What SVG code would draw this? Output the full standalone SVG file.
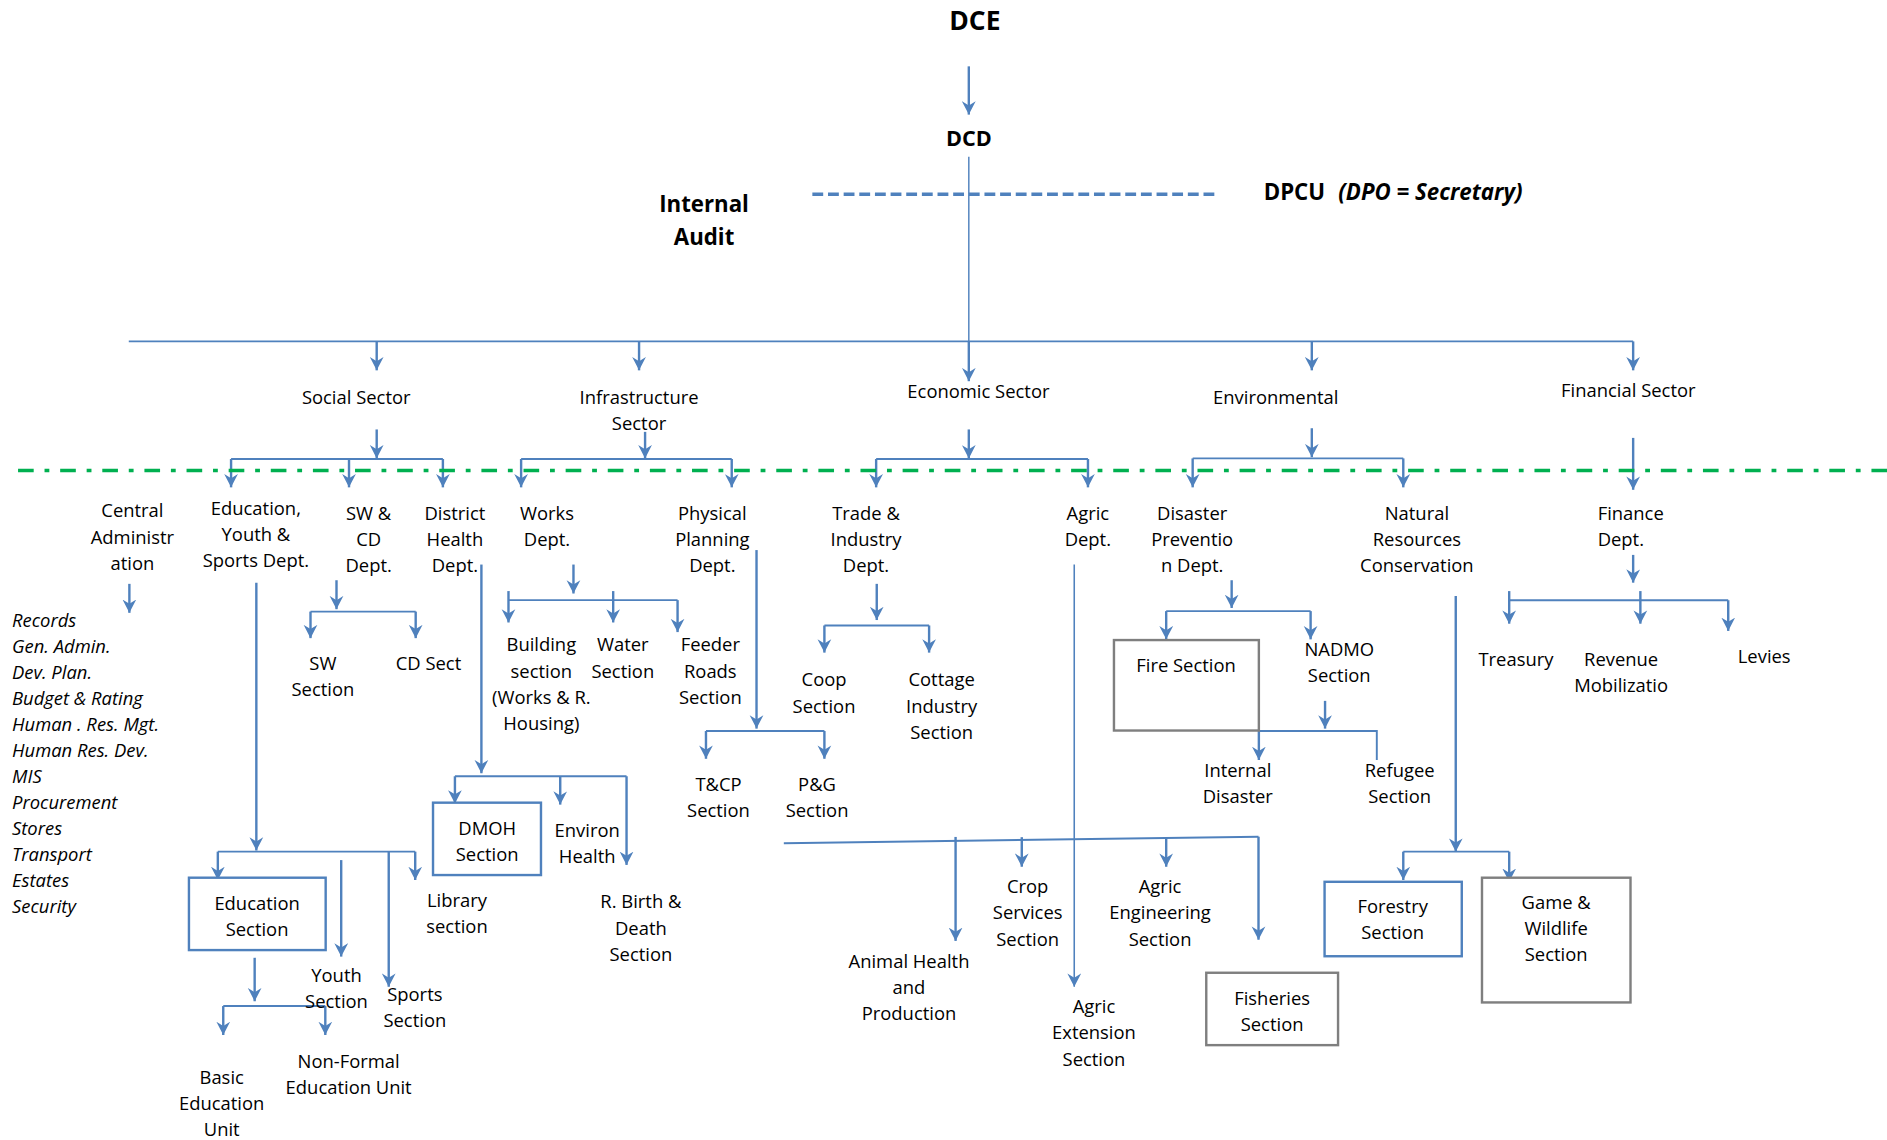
<svg xmlns="http://www.w3.org/2000/svg" width="1887" height="1140" viewBox="0 0 1887 1140">
<style>
.t{font-family:"Open Sans","Liberation Sans",sans-serif;font-size:15.3px;fill:#000;text-anchor:middle}
.ts{font-family:"Open Sans","Liberation Sans",sans-serif;font-size:15.3px;fill:#000;text-anchor:start}
.it{font-family:"Open Sans","Liberation Sans",sans-serif;font-size:15.3px;font-style:italic;fill:#000}
.b{font-family:"Open Sans","Liberation Sans",sans-serif;font-weight:bold;fill:#000;text-anchor:middle}
.bs{font-family:"Open Sans","Liberation Sans",sans-serif;font-weight:bold;fill:#000;text-anchor:start}
.a{stroke:#4F81BD;stroke-width:2;fill:none;marker-end:url(#ah)}
.at{stroke:#4F81BD;stroke-width:1.3;fill:none;marker-end:url(#ah)}
.l{stroke:#4F81BD;stroke-width:1.6;fill:none}
.lt{stroke:#4F81BD;stroke-width:1.2;fill:none}
.bb{fill:#fff;stroke:#4F81BD;stroke-width:2}
.gb{fill:#fff;stroke:#7F7F7F;stroke-width:2}
</style>
<defs>
<marker id="ah" markerUnits="userSpaceOnUse" markerWidth="12" markerHeight="12" refX="11" refY="6" orient="auto" viewBox="0 0 12 12">
<path d="M0,0.3 L11,6 L0,11.7 L3.5,6 z" fill="#4F81BD"/>
</marker>
</defs>
<rect width="1887" height="1140" fill="#fff"/>
<g transform="scale(1.2035 1.2063)">
<g id="connectors">
<path class="a" d="M805,55 V95"/>
<path class="lt" d="M805,130 V283"/>
<path d="M675,161 H1013" stroke="#4F81BD" stroke-width="3" stroke-dasharray="9 4" fill="none"/>
<path class="l" d="M107,283 H1357"/>
<path class="a" d="M313,283 V307"/>
<path class="a" d="M531,283 V307"/>
<path class="a" d="M805,283 V316"/>
<path class="a" d="M1090,283 V307"/>
<path class="a" d="M1357,283 V307"/>
<path class="a" d="M313,356 V380"/>
<path class="l" d="M192,380.5 H368"/>
<path class="a" d="M192,380.5 V404"/>
<path class="a" d="M290,380.5 V404"/>
<path class="a" d="M368,380.5 V404"/>
<path class="a" d="M536,358 V380"/>
<path class="l" d="M433,380.5 H608"/>
<path class="a" d="M433,380.5 V404"/>
<path class="a" d="M608,380.5 V404"/>
<path class="a" d="M805,356 V380"/>
<path class="l" d="M728,380.5 H904"/>
<path class="a" d="M728,380.5 V404"/>
<path class="a" d="M904,380.5 V404"/>
<path class="a" d="M1090,355 V379"/>
<path class="l" d="M991,380 H1166"/>
<path class="a" d="M991,380 V404"/>
<path class="a" d="M1166,380 V404"/>
<path class="a" d="M1357,363 V406"/>
<path d="M15,390 H1568" stroke="#00B050" stroke-width="3" stroke-dasharray="13 9 4 9" fill="none"/>
<path class="a" d="M107.5,484 V508"/>
<path class="a" d="M213,483 V705"/>
<path class="l" d="M181,706 H345"/>
<path class="a" d="M181,706 V729.5"/>
<path class="a" d="M345,706 V729.5"/>
<path class="a" d="M323,706 V818"/>
<path class="a" d="M283.5,713 V793"/>
<path class="a" d="M211.6,794 V830"/>
<path class="l" d="M185.5,834 H270.3"/>
<path class="a" d="M185.5,834 V858"/>
<path class="a" d="M270.3,834 V858"/>
<path class="a" d="M279.6,481 V505"/>
<path class="l" d="M258,507 H345.4"/>
<path class="a" d="M258,507 V529"/>
<path class="a" d="M345.4,507 V529"/>
<path class="a" d="M400,468 V641"/>
<path class="l" d="M378,643.5 H520.6"/>
<path class="a" d="M378,643.5 V666"/>
<path class="a" d="M465.5,643.5 V667"/>
<path class="a" d="M520.6,643.5 V717"/>
<path class="a" d="M476.5,468 V492"/>
<path class="l" d="M422.5,497.5 H563"/>
<path class="a" d="M422.5,490 V516"/>
<path class="a" d="M509.5,490 V516"/>
<path class="a" d="M563,497.5 V524"/>
<path class="a" d="M628.6,456 V604"/>
<path class="l" d="M586.6,606 H685"/>
<path class="a" d="M586.6,606 V629"/>
<path class="a" d="M685,606 V629"/>
<path class="a" d="M728.5,484 V514"/>
<path class="l" d="M685,518.5 H772"/>
<path class="a" d="M685,518.5 V541"/>
<path class="a" d="M772,518.5 V541"/>
<path class="at" d="M892.6,468 V818"/>
<path class="l" d="M651.3,699 L1045.7,693.6"/>
<path class="a" d="M794,693.8 V780"/>
<path class="a" d="M849,694 V718.5"/>
<path class="a" d="M969,694 V718.5"/>
<path class="a" d="M1045.7,693.6 V779"/>
<path class="a" d="M1023.4,481 V504"/>
<path class="l" d="M969,506.6 H1089"/>
<path class="a" d="M969,506.6 V530"/>
<path class="a" d="M1089,506.6 V530"/>
<path class="a" d="M1101,581 V604"/>
<path class="l" d="M1046,606 H1144 V630"/>
<path class="a" d="M1046,606 V630"/>
<path class="a" d="M1209.6,494 V706"/>
<path class="l" d="M1166,706 H1254"/>
<path class="a" d="M1166,706 V729.5"/>
<path class="a" d="M1254,706 V731"/>
<path class="a" d="M1357,460 V483"/>
<path class="l" d="M1254,497.6 H1436"/>
<path class="a" d="M1254,490 V517"/>
<path class="a" d="M1363,490 V517"/>
<path class="a" d="M1436,497.6 V523"/>
</g>
<g id="n-dce"><text class="b" x="810" y="25" font-size="22">DCE</text></g>
<g id="n-dcd"><text class="b" x="805" y="121" font-size="18">DCD</text></g>
<g id="n-audit"><text class="b" x="585" y="175.5" font-size="18.5">Internal</text><text class="b" x="585" y="203" font-size="18.5">Audit</text></g>
<g id="n-dpcu"><text class="bs" x="1050" y="166" font-size="18.5">DPCU</text><text class="bs" x="1112" y="166" font-size="18.5" font-style="italic">(DPO = Secretary)</text></g>
<g id="n-social"><text class="t" x="296" y="335">Social Sector</text></g>
<g id="n-infra"><text class="t" x="531" y="335">Infrastructure</text><text class="t" x="531" y="356.5">Sector</text></g>
<g id="n-econ"><text class="t" x="813" y="330">Economic Sector</text></g>
<g id="n-env"><text class="t" x="1060" y="335">Environmental</text></g>
<g id="n-fin"><text class="t" x="1353" y="329">Financial Sector</text></g>
<g id="n-central"><text class="t" x="110" y="429">Central</text><text class="t" x="110" y="450.7">Administr</text><text class="t" x="110" y="472.4">ation</text></g>
<g id="n-centlist">
<text class="it" x="10" y="519.5">Records</text>
<text class="it" x="10" y="541.1">Gen. Admin.</text>
<text class="it" x="10" y="562.7">Dev. Plan.</text>
<text class="it" x="10" y="584.3">Budget &amp; Rating</text>
<text class="it" x="10" y="605.9">Human . Res. Mgt.</text>
<text class="it" x="10" y="627.5">Human Res. Dev.</text>
<text class="it" x="10" y="649.1">MIS</text>
<text class="it" x="10" y="670.7">Procurement</text>
<text class="it" x="10" y="692.3">Stores</text>
<text class="it" x="10" y="713.9">Transport</text>
<text class="it" x="10" y="735.5">Estates</text>
<text class="it" x="10" y="757.1">Security</text>
</g>
<g id="n-edu"><text class="t" x="212.6" y="427">Education,</text><text class="t" x="212.6" y="448.7">Youth &amp;</text><text class="t" x="212.6" y="470.4">Sports Dept.</text></g>
<g id="n-swcd"><text class="t" x="306.3" y="431">SW &amp;</text><text class="t" x="306.3" y="452.7">CD</text><text class="t" x="306.3" y="474.4">Dept.</text></g>
<g id="n-dh"><text class="t" x="378" y="431">District</text><text class="t" x="378" y="452.7">Health</text><text class="t" x="378" y="474.4">Dept.</text></g>
<g id="n-works"><text class="t" x="454.5" y="431">Works</text><text class="t" x="454.5" y="452.7">Dept.</text></g>
<g id="n-pp"><text class="t" x="591.9" y="431">Physical</text><text class="t" x="591.9" y="452.7">Planning</text><text class="t" x="591.9" y="474.4">Dept.</text></g>
<g id="n-trade"><text class="t" x="719.6" y="431">Trade &amp;</text><text class="t" x="719.6" y="452.7">Industry</text><text class="t" x="719.6" y="474.4">Dept.</text></g>
<g id="n-agric"><text class="t" x="903.9" y="431">Agric</text><text class="t" x="903.9" y="452.7">Dept.</text></g>
<g id="n-disaster"><text class="t" x="990.6" y="431">Disaster</text><text class="t" x="990.6" y="452.7">Preventio</text><text class="t" x="990.6" y="474.4">n Dept.</text></g>
<g id="n-natural"><text class="t" x="1177.3" y="431">Natural</text><text class="t" x="1177.3" y="452.7">Resources</text><text class="t" x="1177.3" y="474.4">Conservation</text></g>
<g id="n-finance"><text class="ts" x="1327.5" y="431">Finance</text><text class="ts" x="1327.5" y="452.7">Dept.</text></g>
<g id="n-swsec"><text class="t" x="268.3" y="555.5">SW</text><text class="t" x="268.3" y="577.2">Section</text></g>
<g id="n-cdsec"><text class="t" x="356" y="555.5">CD Sect</text></g>
<g id="n-building"><text class="t" x="449.8" y="540">Building</text><text class="t" x="449.8" y="561.7">section</text><text class="t" x="449.8" y="583.4">(Works &amp; R.</text><text class="t" x="449.8" y="605.1">Housing)</text></g>
<g id="n-water"><text class="t" x="517.5" y="540">Water</text><text class="t" x="517.5" y="561.7">Section</text></g>
<g id="n-feeder"><text class="t" x="590.2" y="540">Feeder</text><text class="t" x="590.2" y="561.7">Roads</text><text class="t" x="590.2" y="583.4">Section</text></g>
<g id="n-coop"><text class="t" x="684.7" y="569">Coop</text><text class="t" x="684.7" y="590.7">Section</text></g>
<g id="n-cottage"><text class="t" x="782.4" y="569">Cottage</text><text class="t" x="782.4" y="590.7">Industry</text><text class="t" x="782.4" y="612.4">Section</text></g>
<g id="n-tcp"><text class="t" x="597" y="656">T&amp;CP</text><text class="t" x="597" y="677.7">Section</text></g>
<g id="n-pg"><text class="t" x="678.9" y="656">P&amp;G</text><text class="t" x="678.9" y="677.7">Section</text></g>
<g id="n-fire"><rect class="gb" x="925.6" y="530.6" width="120.4" height="75"/><text class="t" x="985.5" y="557">Fire Section</text></g>
<g id="n-nadmo"><text class="t" x="1112.8" y="544">NADMO</text><text class="t" x="1112.8" y="565.7">Section</text></g>
<g id="n-internal"><text class="t" x="1028.5" y="644">Internal</text><text class="t" x="1028.5" y="665.7">Disaster</text></g>
<g id="n-refugee"><text class="t" x="1163" y="644">Refugee</text><text class="t" x="1163" y="665.7">Section</text></g>
<g id="n-treasury"><text class="t" x="1259.6" y="552">Treasury</text></g>
<g id="n-revenue"><text class="t" x="1347" y="552">Revenue</text><text class="t" x="1347" y="573.7">Mobilizatio</text></g>
<g id="n-levies"><text class="t" x="1465.9" y="550">Levies</text></g>
<g id="n-dmoh"><rect class="bb" x="359.8" y="665.4" width="89.7" height="60"/><text class="t" x="404.8" y="692">DMOH</text><text class="t" x="404.8" y="713.7">Section</text></g>
<g id="n-environ"><text class="t" x="487.9" y="693.6">Environ</text><text class="t" x="487.9" y="715.3">Health</text></g>
<g id="n-rbirth"><text class="t" x="532.5" y="753">R. Birth &amp;</text><text class="t" x="532.5" y="774.7">Death</text><text class="t" x="532.5" y="796.4">Section</text></g>
<g id="n-edusec"><rect class="bb" x="157" y="727.6" width="113.6" height="60"/><text class="t" x="213.6" y="754.4">Education</text><text class="t" x="213.6" y="776.1">Section</text></g>
<g id="n-library"><text class="t" x="379.7" y="751.6">Library</text><text class="t" x="379.7" y="773.3">section</text></g>
<g id="n-youth"><text class="t" x="279.6" y="813.8">Youth</text><text class="t" x="279.6" y="835.5">Section</text></g>
<g id="n-sports"><text class="t" x="344.7" y="829.5">Sports</text><text class="t" x="344.7" y="851.2">Section</text></g>
<g id="n-basic"><text class="t" x="184.2" y="898.6">Basic</text><text class="t" x="184.2" y="920.3">Education</text><text class="t" x="184.2" y="942">Unit</text></g>
<g id="n-nonformal"><text class="t" x="289.7" y="885.6">Non-Formal</text><text class="t" x="289.7" y="907.3">Education Unit</text></g>
<g id="n-animal"><text class="t" x="755.3" y="802.5">Animal Health</text><text class="t" x="755.3" y="824.2">and</text><text class="t" x="755.3" y="845.9">Production</text></g>
<g id="n-crop"><text class="t" x="853.9" y="740.5">Crop</text><text class="t" x="853.9" y="762.2">Services</text><text class="t" x="853.9" y="783.9">Section</text></g>
<g id="n-agreng"><text class="t" x="963.9" y="740.5">Agric</text><text class="t" x="963.9" y="762.2">Engineering</text><text class="t" x="963.9" y="783.9">Section</text></g>
<g id="n-agrext"><text class="t" x="909" y="840">Agric</text><text class="t" x="909" y="861.7">Extension</text><text class="t" x="909" y="883.4">Section</text></g>
<g id="n-fish"><rect class="gb" x="1002.3" y="806.4" width="109.5" height="60"/><text class="t" x="1057" y="833">Fisheries</text><text class="t" x="1057" y="854.7">Section</text></g>
<g id="n-forestry"><rect class="bb" x="1100.6" y="731" width="114" height="61.7"/><text class="t" x="1157.2" y="756.5">Forestry</text><text class="t" x="1157.2" y="778.2">Section</text></g>
<g id="n-game"><rect class="gb" x="1231.4" y="727.6" width="123.4" height="103.4"/><text class="t" x="1293" y="753.5">Game &amp;</text><text class="t" x="1293" y="775.2">Wildlife</text><text class="t" x="1293" y="796.9">Section</text></g>
</g>
</svg>
